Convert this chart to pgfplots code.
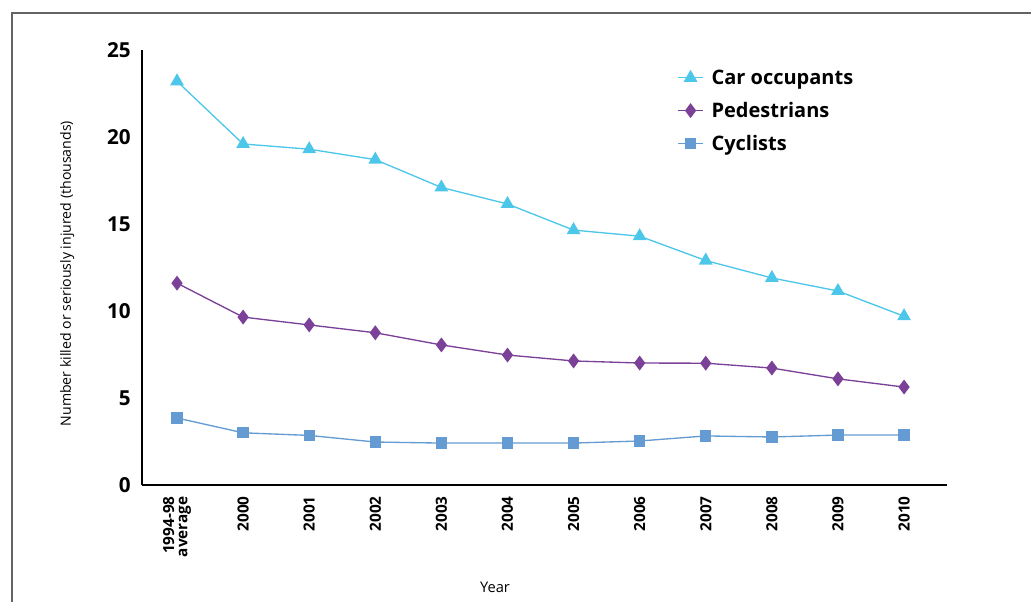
\documentclass[border=0pt]{standalone}
\usepackage{pgfplots}
\pgfplotsset{compat=1.18}
\usepackage{fontspec}
\setmainfont{Open Sans}
\definecolor{carcol}{RGB}{77,199,233}
\definecolor{pedcol}{RGB}{123,64,152}
\definecolor{cyccol}{RGB}{100,155,210}
\definecolor{framecol}{RGB}{100,100,100}
\begin{document}
\begin{tikzpicture}
	% picture is 1031x601 px, 1px = 0.75pt; axis box at (0,0)
	\useasboundingbox (-106.5pt,-87pt) rectangle (666.75pt,363.75pt);
	\draw[framecol, line width=1.6pt] (-97.5pt,-90pt) -- (-97.5pt,354pt) -- (670pt,354pt);
	\begin{axis}[
	scale only axis,
	width=603.75pt, height=326.25pt,
	axis x line*=bottom,
	axis y line*=left,
	axis line style={line width=0.8pt, -},
	xmin=-0.53, xmax=11.65,
	ymin=0, ymax=25,
	ytick={0,5,...,25},
	xtick={0,...,11},
	xticklabels={{1994-98\\average},2000,2001,2002,2003,2004,2005,2006,2007,2008,2009,2010},
	major tick length=0pt,
	/pgf/number format/assume math mode=true,
	yticklabel style={font=\fontsize{15.5}{16}\selectfont\bfseries, anchor=east, xshift=-5pt},
	xticklabel style={font=\fontsize{11.5}{10}\selectfont\bfseries, rotate=90, anchor=east, align=right, xshift=-5pt},
	xlabel={Year},
	ylabel={Number killed or seriously injured (thousands)},
	xlabel style={font=\fontsize{11}{12}\selectfont, at={(axis description cs:0.4385,-0.2345)}, anchor=center},
	ylabel style={font=\fontsize{10.6}{12}\selectfont, at={(axis description cs:-0.093,0.486)}, anchor=center},
	legend style={draw=none, fill=none, at={(axis description cs:0.66,0.968)}, anchor=north west,
		font=\fontsize{15}{16}\selectfont\bfseries, row sep=8pt,
		legend cell align=left,
		nodes={inner xsep=6pt}},
	legend image code/.code={
		\draw[#1, mark=none] (0cm,0cm) -- (0.65cm,0cm);
		\draw[#1, only marks] plot coordinates {(0.325cm,0cm)};
	},
	clip=false,
	]
		\addplot [carcol, line width=1pt, mark=triangle*, mark size=5pt] coordinates {
			(0,23.2) (1,19.6) (2,19.3) (3,18.7) (4,17.1) (5,16.15)
			(6,14.65) (7,14.3) (8,12.9) (9,11.9) (10,11.15) (11,9.7)
		};
		\addlegendentry{Car occupants}
		\addplot [pedcol, line width=1pt, mark=diamond*, mark size=4.8pt] coordinates {
			(0,11.6) (1,9.65) (2,9.2) (3,8.75) (4,8.05) (5,7.47)
			(6,7.13) (7,7.01) (8,7.0) (9,6.72) (10,6.1) (11,5.63)
		};
		\addlegendentry{Pedestrians}
		\addplot [cyccol, line width=1pt, mark=square*, mark size=3.75pt] coordinates {
			(0,3.85) (1,3.0) (2,2.85) (3,2.47) (4,2.41) (5,2.41)
			(6,2.41) (7,2.53) (8,2.82) (9,2.76) (10,2.87) (11,2.87)
		};
		\addlegendentry{Cyclists}
	\end{axis}
\end{tikzpicture}
\end{document}
